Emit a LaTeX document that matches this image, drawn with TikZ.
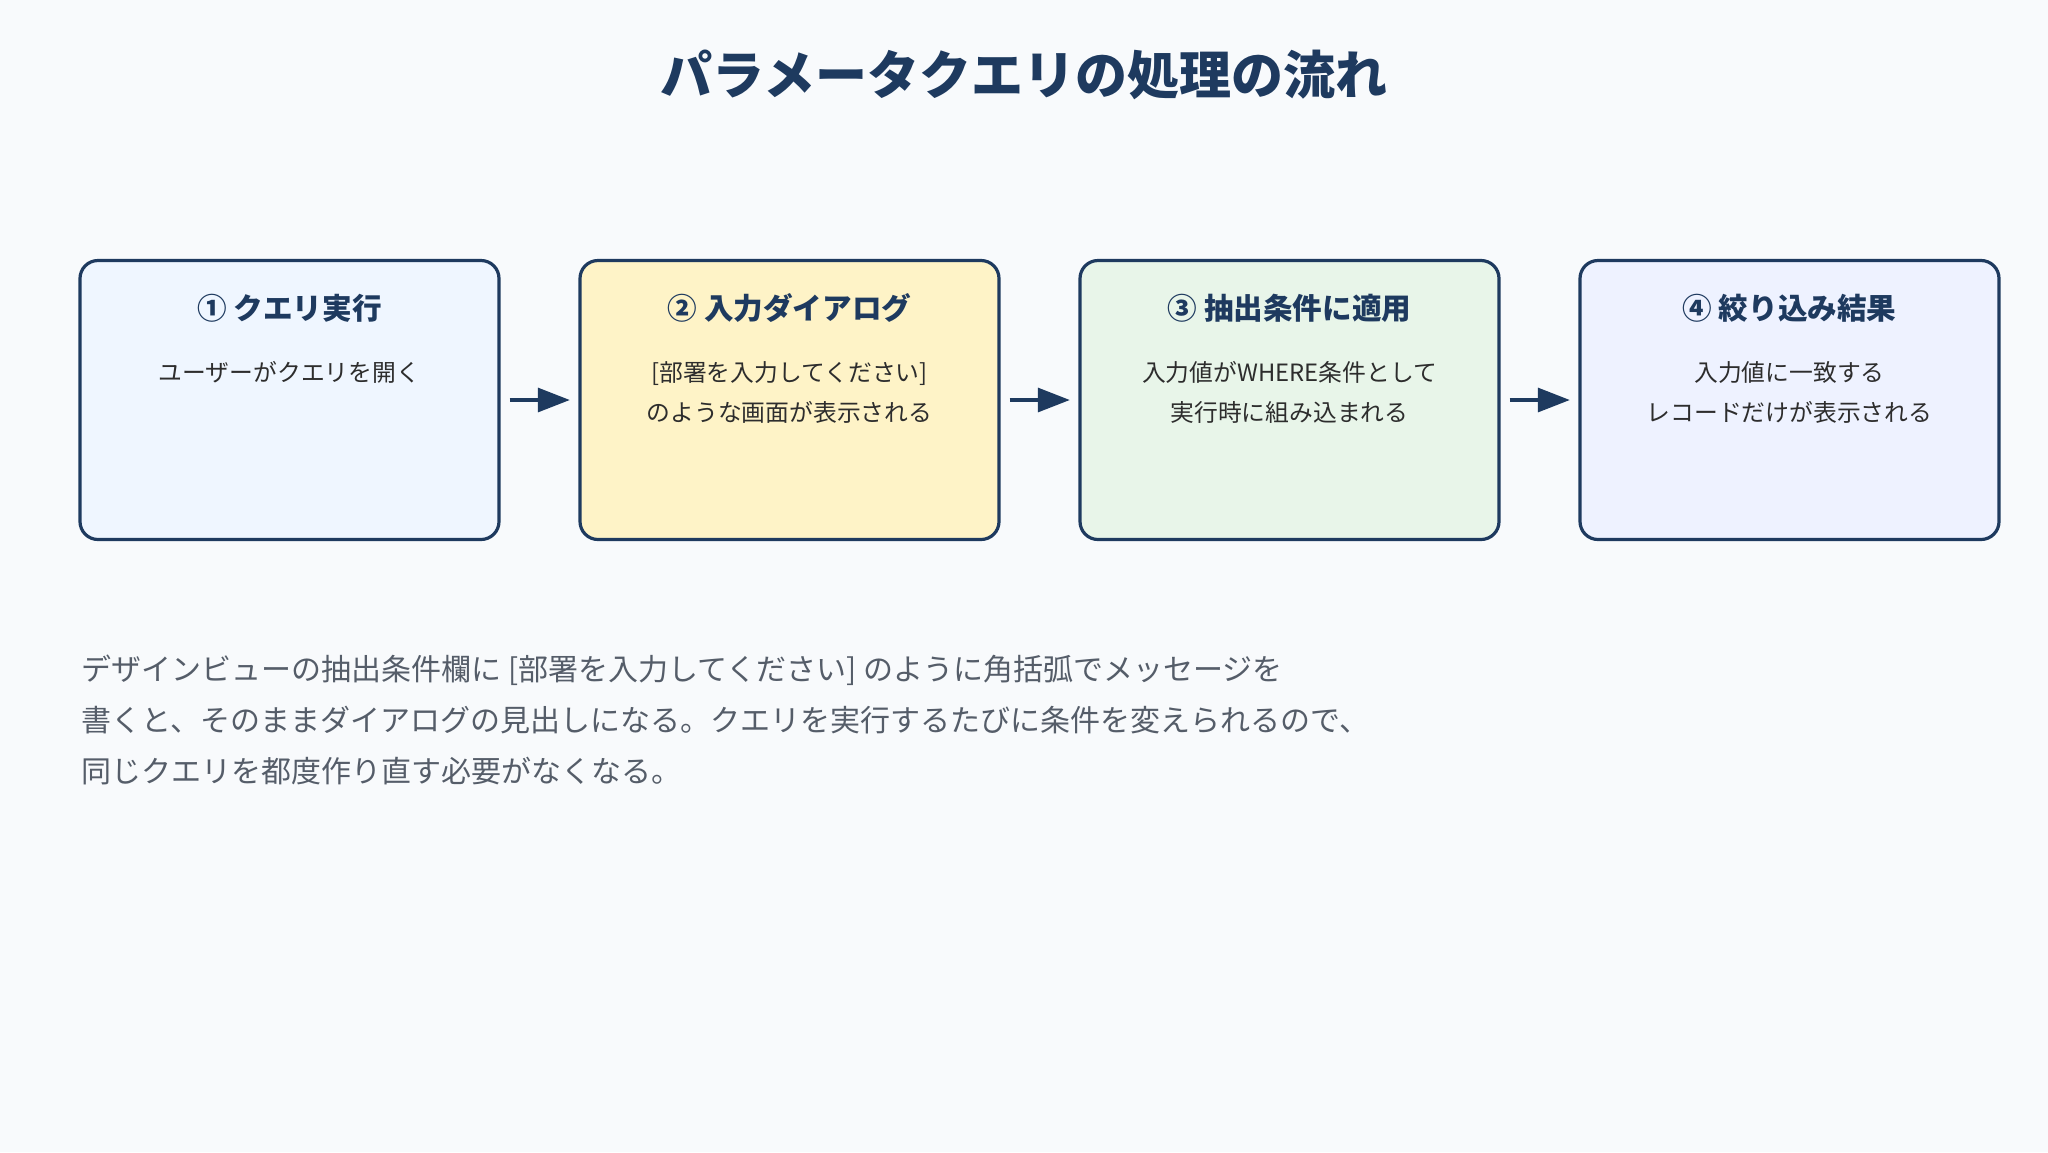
\documentclass[tikz,border=0pt]{standalone}
\usepackage{fontspec}
\setmainfont{Noto Sans CJK JP}
\usetikzlibrary{arrows.meta}
\definecolor{bgcol}{HTML}{F8FAFC}
\definecolor{navy}{HTML}{1E3A5F}
\definecolor{bodytext}{HTML}{2D2D2D}
\definecolor{paratext}{HTML}{555D69}
\definecolor{fillblue}{HTML}{EFF6FF}
\definecolor{fillyellow}{HTML}{FEF3C7}
\definecolor{fillgreen}{HTML}{E8F5E9}
\definecolor{filllav}{HTML}{EEF2FF}

\begin{document}
\begin{tikzpicture}[x=0.5pt,y=-0.5pt,
  stepbox/.style={draw=navy,line width=1.6pt,rounded corners=9pt,minimum width=209.5pt,minimum height=139.5pt,inner sep=0pt},
  head/.style={font=\bfseries\fontsize{14.8}{17}\selectfont,text=navy,inner sep=0pt},
  body/.style={font=\fontsize{11.9}{20}\selectfont,text=bodytext,align=center,inner sep=0pt},
  flow/.style={draw=navy,line width=1.6pt,-{Triangle[length=16pt,width=12pt]},shorten <=4.5pt,shorten >=4.3pt}]
  \fill[bgcol] (0,0) rectangle (2048,1152); % background
  \useasboundingbox (0,0) rectangle (2048,1152);

  \node[font=\bfseries\fontsize{26}{30}\selectfont,text=navy] (title) at (1024,75) {パラメータクエリの処理の流れ};

  % boxes
  \node[stepbox,fill=fillblue] (b1) at (289.5,400) {};
  \node[stepbox,fill=fillyellow] (b2) at (789.5,400) {};
  \node[stepbox,fill=fillgreen] (b3) at (1289.5,400) {};
  \node[stepbox,fill=filllav] (b4) at (1789.5,400) {};

  \draw[flow] (b1) -- (b2);
  \draw[flow] (b2) -- (b3);
  \draw[flow] (b3) -- (b4);

  %draw labels
  \node[head] (h1) at (289.5,308) {① クエリ実行};
  \node[body] (t1) at (289.5,372) {ユーザーがクエリを開く};
  \node[head] (h2) at (789.5,308) {② 入力ダイアログ};
  \node[body] (t2) at (789.5,392) {[部署を入力してください]\\のような画面が表示される};
  \node[head] (h3) at (1289.5,308) {③ 抽出条件に適用};
  \node[body] (t3) at (1289.5,392) {入力値がWHERE条件として\\実行時に組み込まれる};
  \node[head] (h4) at (1789.5,308) {④ 絞り込み結果};
  \node[body] (t4) at (1789.5,392) {入力値に一致する\\レコードだけが表示される};

  \node[anchor=north west,inner sep=0pt,align=left,text=paratext,font=\fontsize{15}{25.5}\selectfont] (note) at (81,655)
    {デザインビューの抽出条件欄に [部署を入力してください] のように角括弧でメッセージを\\
     書くと、そのままダイアログの見出しになる。クエリを実行するたびに条件を変えられるので、\\
     同じクエリを都度作り直す必要がなくなる。};
\end{tikzpicture}
\end{document}
